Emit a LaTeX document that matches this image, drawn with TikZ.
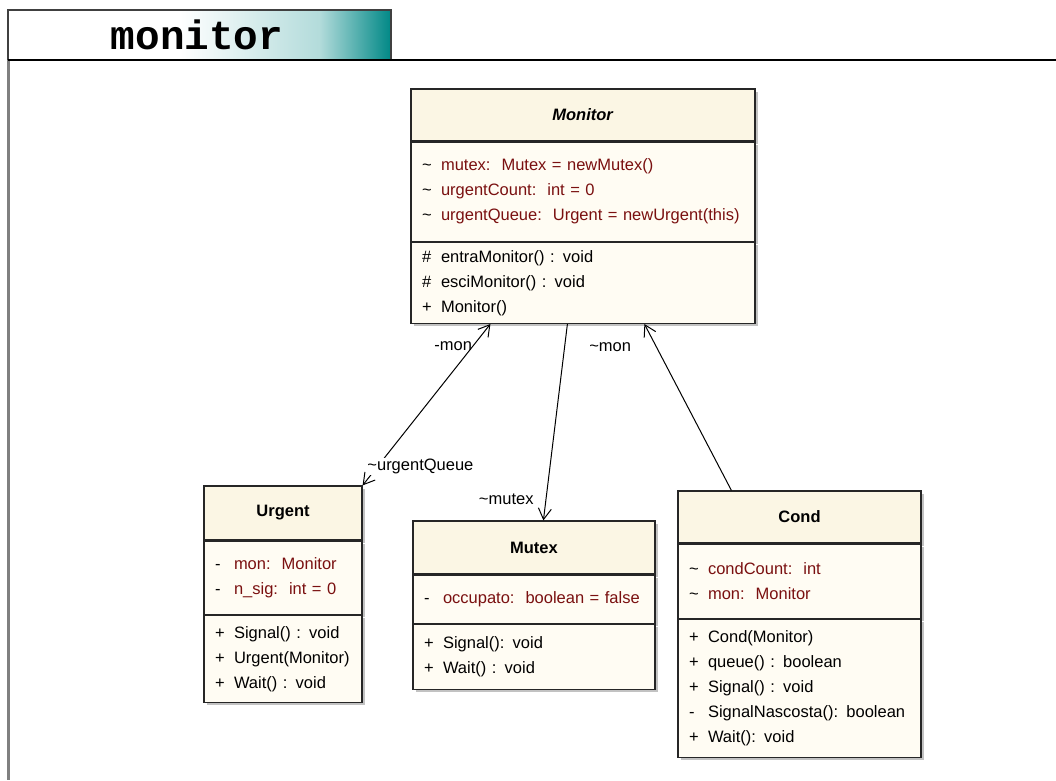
\documentclass[tikz,border=0pt]{standalone}
\usepackage{fontspec}
\setmainfont{Liberation Sans}
\setmonofont{Liberation Mono}
\usetikzlibrary{arrows.meta, positioning, shadows}

\definecolor{attrred}{RGB}{122,16,16}
\definecolor{clshead}{RGB}{251,246,228}
\definecolor{clsbody}{RGB}{255,252,243}
\definecolor{tabteal}{RGB}{0,136,134}

\newcommand{\vis}[2]{\makebox[19pt][l]{\color{black}#1}#2}

\begin{document}
\begin{tikzpicture}[x=1pt, y=-1pt]
	\tikzset{>={Straight Barb[length=11pt, width=13pt]}, node distance=0pt,
		clsshadow/.style={drop shadow={shadow xshift=3pt, shadow yshift=-3pt, fill=black!40, opacity=.6}},
		clshdr/.style={draw=black!85, line width=1.2pt, fill=clshead, inner sep=0pt, clsshadow, font=\fontsize{16.5}{19}\selectfont\bfseries},
		clspart/.style={draw=black!85, line width=1.2pt, fill=clsbody, inner xsep=11pt, inner ysep=0pt, clsshadow, align=left, font=\fontsize{16.5}{25}\selectfont},
		attrs/.style={clspart, text=attrred},
		lbl/.style={inner sep=1pt, font=\fontsize{16.5}{19}\selectfont},
		assoc/.style={line width=1pt}
	}
	\useasboundingbox (0,0) rectangle (1056,780);

	% title tab
	\fill[white] (8,10) rectangle (391,60);
	\shade[left color=white, right color=tabteal!30] (180,10) rectangle (320,60);
	\shade[left color=tabteal!30, right color=tabteal] (319.5,10) rectangle (391,60);
	\draw[black!75, line width=1.5pt] (8,60) -- (8,10) -- (391,10) -- (391,60);
	\draw[black!50, line width=3pt] (8,60) -- (8,780);
	\draw[black, line width=1.2pt] (8,60) -- (1056,60);
	\node[font=\fontsize{41}{44}\selectfont\ttfamily\bfseries] (title) at (197,35) {monitor};

	% Monitor
	\node[clshdr, minimum width=344pt, minimum height=52pt] (monH) at (583,115) {\textit{Monitor}};
	\node[attrs, below=of monH, text width=322pt, minimum height=99pt] (monA) {%
		\vis{\textasciitilde}{mutex:~~Mutex = newMutex()}\\
		\vis{\textasciitilde}{urgentCount:~~int = 0}\\
		\vis{\textasciitilde}{urgentQueue:~~Urgent = newUrgent(this)}};
	\node[clspart, below=of monA, text width=322pt, minimum height=81pt] (monO) {%
		\vis{\#}{entraMonitor() : void}\\
		\vis{\#}{esciMonitor() : void}\\
		\vis{+}{Monitor()}};

	% Urgent
	\node[clshdr, minimum width=158pt, minimum height=54pt] (urgH) at (283,513) {Urgent};
	\node[attrs, below=of urgH, text width=136pt, minimum height=73pt] (urgA) {%
		\vis{-}{mon:~~Monitor}\\
		\vis{-}{n\_sig:~~int = 0}};
	\node[clspart, below=of urgA, text width=136pt, minimum height=87pt] (urgO) {%
		\vis{+}{Signal() : void}\\
		\vis{+}{Urgent(Monitor)}\\
		\vis{+}{Wait() : void}};

	% Mutex
	\node[clshdr, minimum width=242pt, minimum height=53pt] (mutH) at (534,547.5) {Mutex};
	\node[attrs, below=of mutH, text width=220pt, minimum height=48pt] (mutA) {%
		\vis{-}{occupato:~~boolean = false}};
	\node[clspart, below=of mutA, text width=220pt, minimum height=65pt] (mutO) {%
		\vis{+}{Signal(): void}\\
		\vis{+}{Wait() : void}};

	% Cond
	\node[clshdr, minimum width=243pt, minimum height=52pt] (conH) at (799.5,517) {Cond};
	\node[attrs, below=of conH, text width=221pt, minimum height=74pt] (conA) {%
		\vis{\textasciitilde}{condCount:~~int}\\
		\vis{\textasciitilde}{mon:~~Monitor}};
	\node[clspart, below=of conA, text width=221pt, minimum height=138pt] (conO) {%
		\vis{+}{Cond(Monitor)}\\
		\vis{+}{queue() : boolean}\\
		\vis{+}{Signal() : void}\\
		\vis{-}{SignalNascosta(): boolean}\\
		\vis{+}{Wait(): void}};

	% associations
	\draw[assoc, <->] ([xshift=80pt]monO.south west) --
		node[lbl, pos=0.14, left=-1pt] (lMonU) {-mon}
		node[lbl, fill=white, pos=0.88, anchor=west, xshift=-12pt] (lUrgQ) {\textasciitilde urgentQueue}
		(urgH.north east);
	\draw[assoc, ->] ([xshift=157pt]monO.south west) --
		node[lbl, pos=0.89, left=11pt] (lMutex) {\textasciitilde mutex}
		([xshift=131pt]mutH.north west);
	\draw[assoc, ->] ([xshift=54pt]conH.north west) --
		node[lbl, pos=0.86, left=24pt] (lMonC) {\textasciitilde mon}
		([xshift=234pt]monO.south west);
\end{tikzpicture}
\end{document}
